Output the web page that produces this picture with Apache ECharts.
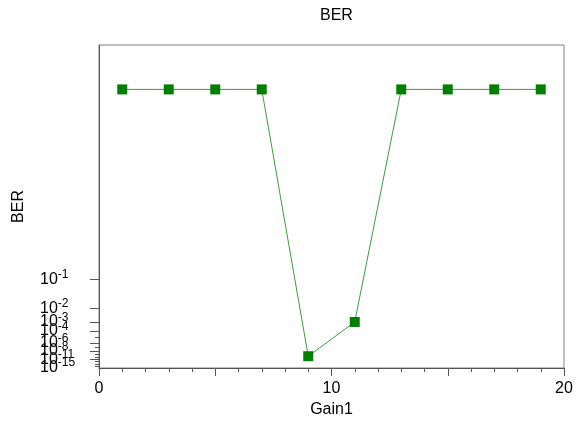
<!DOCTYPE html>
<html>
<head>
<meta charset="utf-8">
<script src="https://cdn.jsdelivr.net/npm/echarts@6/dist/echarts.min.js"></script>
<style>
  html, body { margin: 0; padding: 0; background: #fff; }
  #chart { width: 578px; height: 427px; }
</style>
</head>
<body>
<div id="chart"></div>
<script>
// measured points (Gain1 vs BER)
const gain = [1, 3, 5, 7, 9, 11, 13, 15, 17, 19];
const ber = [0.49, 0.49, 0.49, 0.49, 1.7e-10, 1.0e-3, 0.49, 0.49, 0.49, 0.49];

// y axis decades, only some of them get a label
const tickExps = [1, 2, 3, 4, 5, 6, 7, 8, 9, 10, 11, 12, 13, 14, 15];
const labelExps = [1, 2, 3, 4, 6, 8, 11, 15];
const xTickLabels = [0, 10, 20];

// inverse normal cdf (Acklam)
function normInv(p) {
  const a = [-3.969683028665376e+01, 2.209460984245205e+02, -2.759285104469687e+02, 1.383577518672690e+02, -3.066479806614716e+01, 2.506628277459239e+00];
  const b = [-5.447609879822406e+01, 1.615858368580409e+02, -1.556989798598866e+02, 6.680131188771972e+01, -1.328068155288572e+01];
  const c = [-7.784894002430293e-03, -3.223964580411365e-01, -2.400758277161838e+00, -2.549732539343734e+00, 4.374664141464968e+00, 2.938163982698783e+00];
  const d = [7.784695709041462e-03, 3.224671290700398e-01, 2.445134137142996e+00, 3.754408661907416e+00];
  const pl = 0.02425;
  let q, r;
  if (p < pl) {
    q = Math.sqrt(-2 * Math.log(p));
    return (((((c[0]*q+c[1])*q+c[2])*q+c[3])*q+c[4])*q+c[5]) / ((((d[0]*q+d[1])*q+d[2])*q+d[3])*q+1);
  }
  if (p <= 1 - pl) {
    q = p - 0.5; r = q * q;
    return (((((a[0]*r+a[1])*r+a[2])*r+a[3])*r+a[4])*r+a[5])*q / (((((b[0]*r+b[1])*r+b[2])*r+b[3])*r+b[4])*r+1);
  }
  q = Math.sqrt(-2 * Math.log(1 - p));
  return -(((((c[0]*q+c[1])*q+c[2])*q+c[3])*q+c[4])*q+c[5]) / ((((d[0]*q+d[1])*q+d[2])*q+d[3])*q+1);
}

// BER axis: log10 of the Q factor, labelled in BER
function berToY(v) {
  return Math.log10(-normInv(v));
}

const yMin = -2;
const yMax = berToY(1e-15) + 0.004;
const labelVals = labelExps.map(e => berToY(Math.pow(10, -e)));
const shortVals = tickExps.filter(e => labelExps.indexOf(e) < 0).map(e => berToY(Math.pow(10, -e)));
// the last label sits on a second axis so the end-label overlap check keeps it
const lastLabelVals = labelVals.slice(-1);

const chart = echarts.init(document.getElementById('chart'));
const font = "'Liberation Sans', Arial, sans-serif";

function berLabel(v) {
  let best = 0, dist = Infinity;
  labelVals.forEach((lv, i) => {
    if (Math.abs(lv - v) < dist) { dist = Math.abs(lv - v); best = i; }
  });
  return '10{sup|-' + labelExps[best] + '}';
}

const yLabelStyle = {
  margin: 59,
  align: 'left',
  hideOverlap: false,
  fontFamily: font, fontSize: 16, color: '#000',
  formatter: berLabel,
  rich: {
    sup: { fontFamily: font, fontSize: 12, color: '#000', verticalAlign: 'top', padding: [0, 0, 9, 0] }
  }
};

chart.setOption({
  animation: false,
  title: {
    text: 'BER', left: 315, top: 3,
    textStyle: { fontFamily: font, fontSize: 16, fontWeight: 'normal', color: '#000' }
  },
  grid: {
    left: 99, right: 14, top: 45, bottom: 59,
    show: true, borderColor: '#808080', borderWidth: 1
  },
  xAxis: {
    type: 'value',
    min: 0, max: 20, interval: 5,
    name: 'Gain1',
    nameLocation: 'middle',
    nameGap: 31,
    nameTextStyle: { fontFamily: font, fontSize: 16, color: '#000' },
    axisLine: { onZero: false, lineStyle: { color: '#555', width: 1 } },
    axisTick: { length: 8, lineStyle: { color: '#555' } },
    minorTick: { show: true, splitNumber: 5, length: 4, lineStyle: { color: '#555' } },
    splitLine: { show: false },
    axisLabel: {
      margin: 13,
      fontFamily: font, fontSize: 16, color: '#000',
      formatter: v => (xTickLabels.indexOf(v) >= 0 ? String(v) : '')
    }
  },
  yAxis: [
    {
      type: 'value',
      min: yMin, max: yMax,
      inverse: true,
      position: 'left',
      name: 'BER',
      nameLocation: 'middle',
      nameGap: 72,
      nameTextStyle: { fontFamily: font, fontSize: 16, color: '#000' },
      axisLine: { show: true, onZero: false, lineStyle: { color: '#555', width: 1 } },
      axisTick: { show: true, length: 9, customValues: labelVals, lineStyle: { color: '#555' } },
      splitLine: { show: false },
      axisLabel: Object.assign({ customValues: labelVals }, yLabelStyle)
    },
    {
      type: 'value',
      min: yMin, max: yMax,
      inverse: true,
      position: 'left',
      axisLine: { show: false, onZero: false },
      axisTick: { show: true, length: 4, customValues: shortVals, lineStyle: { color: '#555' } },
      splitLine: { show: false },
      axisLabel: Object.assign({ customValues: lastLabelVals }, yLabelStyle)
    }
  ],
  series: [{
    type: 'line',
    yAxisIndex: 0,
    data: gain.map((g, i) => [g, berToY(ber[i])]),
    symbol: 'rect',
    symbolSize: 10,
    itemStyle: { color: '#008000' },
    lineStyle: { color: '#3c9c3c', width: 1 }
  }]
});
</script>
</body>
</html>
